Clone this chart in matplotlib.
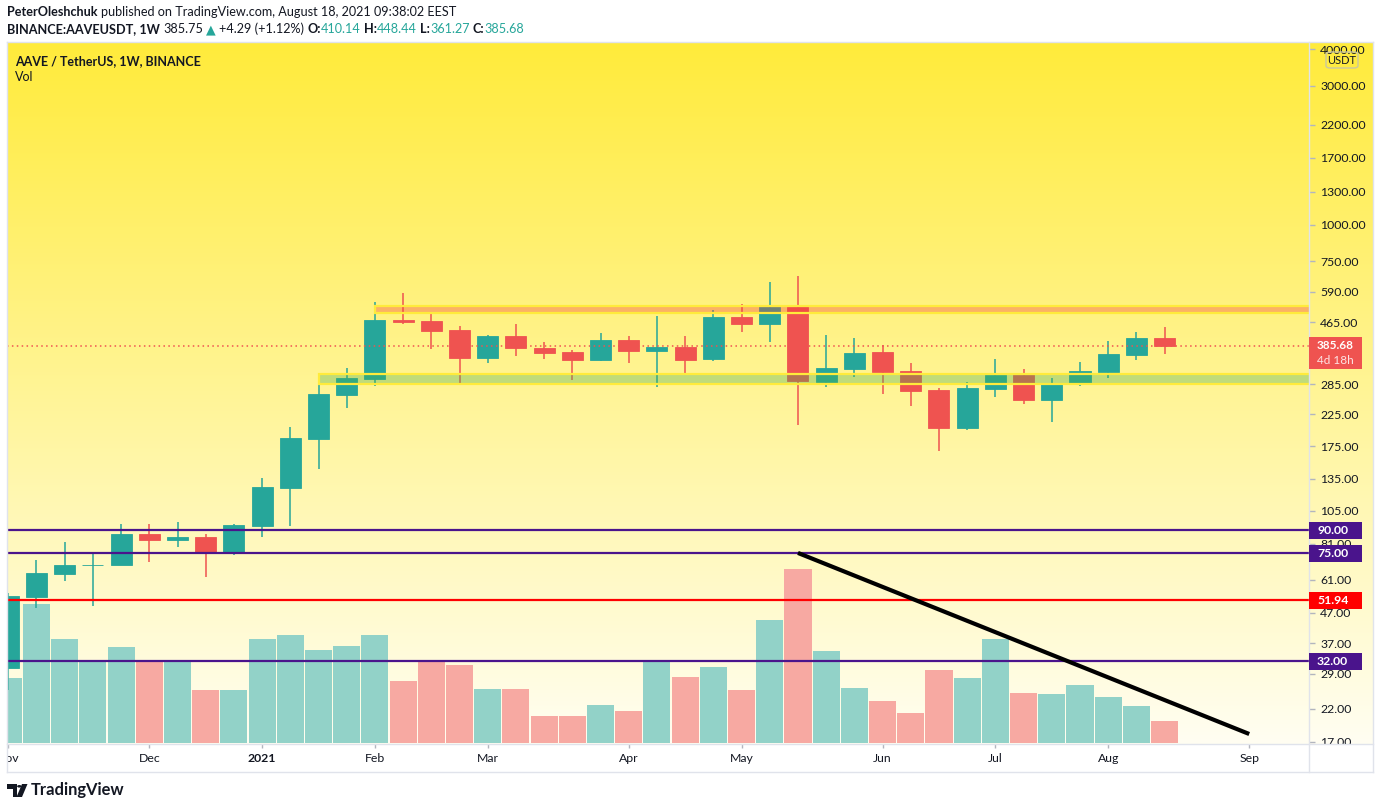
import numpy as np
import pandas as pd
import matplotlib
matplotlib.use("Agg")
import matplotlib.pyplot as plt
from matplotlib.patches import Rectangle, FancyBboxPatch, Polygon, Circle
from matplotlib.lines import Line2D
from matplotlib.ticker import FixedLocator, NullLocator, FuncFormatter

plt.rcParams['font.family'] = ['Lato', 'DejaVu Sans']

# ---------------- data ----------------
first_week = "2020-11-02"
opens = [30.4, 53.2, 63.8, 68.5, 68.5, 87.5, 83.4, 85.4, 75.9, 93.1,
         126, 185, 262, 297, 473, 469, 437, 350, 417, 379,
         367, 345, 404, 370, 382, 348, 484, 458, 524, 290,
         321, 367, 316, 272, 202, 274, 306, 252, 285, 314,
         359, 410.14]
highs = [54.9, 71.2, 82.1, 75.3, 94.6, 94.6, 96.1, 87.5, 94.6, 136,
         203, 283, 324, 545, 585, 496, 451, 420, 458, 397,
         373, 427, 417, 488, 417, 512, 536, 638, 669, 420,
         410, 388, 337, 277, 290, 348, 321, 299, 340, 401,
         430, 448.44]
lows = [25.6, 48.8, 60.4, 49.6, 68.4, 70.1, 78.9, 62.3, 74.1, 85.4,
        93.1, 146, 236, 281, 458, 376, 285, 337, 356, 348,
        294, 342, 337, 279, 309, 342, 430, 397, 207, 279,
        302, 264, 240, 168, 199, 258, 244, 211, 281, 299,
        345, 361.27]
closes = [53.6, 64.3, 68.5, 68.6, 87.5, 83.4, 85.4, 75.9, 93.9, 127,
          186, 264, 299, 473, 465, 433, 350, 417, 379, 364,
          345, 404, 370, 382, 345, 484, 458, 524, 292, 324,
          364, 314, 270, 202, 277, 306, 252, 288, 316, 362,
          410, 385.68]
volume = [650, 1390, 1040, 820, 960, 810, 830, 530, 530, 1040,
          1080, 930, 970, 1080, 620, 810, 780, 540, 540, 270,
          270, 380, 320, 830, 660, 760, 530, 1230, 1740, 920,
          550, 420, 300, 730, 650, 1040, 500, 490, 580, 460,
          370, 220]

level_values = [90.0, 75.0, 51.94, 32.0]
level_labels = ["90.00", "75.00", "51.94", "32.00"]
level_colors = ["#4A148C", "#4A148C", "#FF0000", "#4A148C"]

green_zone = (285, 309)      # price range
green_zone_start = 11        # week index
orange_zone = (498, 528)
orange_zone_start = 13

trend_weeks = [28, 44]
trend_prices = [75.3, 18.06]

ytick_values = [4000, 3000, 2200, 1700, 1300, 1000, 750, 590, 465, 285,
                225, 175, 135, 105, 81, 61, 47, 37, 29, 22, 17]

last_price_label = "385.68"
countdown_label = "4d 18h"

# ---------------- colors / geometry ----------------
UP, DOWN = "#26A69A", "#EF5350"
VUP, VDOWN = "#92D2C8", "#F7A9A2"
TXT = "#131722"
BORDER = "#E0E3EB"
W, H = 1380, 809
L, R, T, B = 7, 1309, 42, 744
AX_R, BOT = 1373, 772


def fx(px):
    return px / W


def fy(py):
    return 1 - py / H


fig = plt.figure(figsize=(W / 100, H / 100), dpi=100)
fig.patch.set_facecolor("white")

# background gradient (pane + price scale)
bg = fig.add_axes([fx(L), fy(B), fx(AX_R - L), (B - T) / H], zorder=0)
top_c = np.array([255, 235, 59]) / 255
bot_c = np.array([255, 254, 242]) / 255
tt = np.linspace(0, 1, 400)[:, None]
grad = top_c * (1 - tt) + bot_c * tt
bg.imshow(grad[:, None, :], aspect="auto", extent=[0, 1, 0, 1])
bg.axis("off")

n = len(opens)
x = np.arange(n)
o, h, lo, c = map(np.array, (opens, highs, lows, closes))
up = c >= o

xlim = (-0.046, 46.12)

# volume pane
axv = fig.add_axes([fx(L), fy(B), fx(R - L), (B - T) / H], zorder=1)
axv.patch.set_alpha(0)
axv.bar(x, volume, width=0.96, color=[VUP if u else VDOWN for u in up], lw=0)
vmax = max(volume)
axv.set_ylim(-vmax * 0.0057, vmax / 0.248)
axv.set_xlim(*xlim)
axv.axis("off")

# price pane
ax = fig.add_axes([fx(L), fy(B), fx(R - L), (B - T) / H], zorder=2)
ax.patch.set_alpha(0)
ax.set_yscale("log")
ax.set_xlim(*xlim)
ax.set_ylim(16.69, 4233)
for s in ax.spines.values():
    s.set_visible(False)

cols = [UP if u else DOWN for u in up]
ax.vlines(x, lo, h, colors=cols, lw=1.1, zorder=3)
ax.bar(x, np.abs(c - o), bottom=np.minimum(o, c), width=0.745, color=cols,
       edgecolor=cols, lw=0.6, zorder=4)

# zones
for (z0, z1), start, col, a in [(green_zone, green_zone_start, "#4CAF50", 0.35),
                                (orange_zone, orange_zone_start, "#F44336", 0.36)]:
    ax.add_patch(Rectangle((start, z0), xlim[1] + 2 - start, z1 - z0,
                           facecolor=matplotlib.colors.to_rgba(col, a),
                           edgecolor="#FFEB3B", lw=1.6, zorder=5))

# last price dotted line
ax.axhline(closes[-1], color=DOWN, lw=1.1, ls=(0, (1, 2.2)), zorder=5)

# horizontal levels
for v, col in zip(level_values, level_colors):
    ax.axhline(v, color=col, lw=1.6, zorder=6)

# trend line
ax.plot(trend_weeks, trend_prices, color="black", lw=3.0, solid_capstyle="butt", zorder=7)

# price scale
ax.yaxis.tick_right()
ax.yaxis.set_major_locator(FixedLocator(ytick_values))
ax.yaxis.set_minor_locator(NullLocator())
ax.yaxis.set_major_formatter(FuncFormatter(lambda v, p: f"{v:.2f}"))
ax.tick_params(axis="y", which="major", length=4, width=1, color="#B2B5BE",
               pad=4, labelsize=8.8, labelcolor=TXT)
ax.tick_params(axis="x", bottom=False, labelbottom=False)
for tk in ax.yaxis.get_major_ticks():
    tk.label2.set_clip_box(bg.bbox)
    tk.label2.set_clip_on(True)

# time scale
axx = fig.add_axes([fx(L), fy(BOT), fx(R - L), (BOT - B) / H], zorder=2)
axx.set_xlim(*xlim)
axx.set_ylim(0, 1)
axx.axis("off")
dates = pd.date_range(first_week, periods=n + 6, freq="7D")
for i, d in enumerate(dates):
    if i == 0 or d.month != dates[i - 1].month:
        lab = str(d.year) if d.month == 1 else d.strftime("%b")
        axx.text(i, 0.50, lab, ha="center", va="center", fontsize=8.8, color=TXT,
                 fontweight="bold" if d.month == 1 else "normal", clip_on=True)
        axx.vlines(i, 0.86, 1.0, color="#B2B5BE", lw=1)

# borders
for (x0, y0, x1, y1) in [(L, T, AX_R, T), (L, B, AX_R, B), (L, BOT, AX_R, BOT),
                         (L - 0.5, T, L - 0.5, BOT), (R, T, R, BOT), (AX_R, T, AX_R, BOT)]:
    fig.add_artist(Line2D([fx(x0), fx(x1)], [fy(y0), fy(y1)], color=BORDER, lw=1.0,
                          transform=fig.transFigure, zorder=30))

# price label boxes
def ydisp(v):
    return ax.transData.transform((0, v))[1]


for v, lab, col in zip(level_values, level_labels, level_colors):
    yd = ydisp(v)
    fig.add_artist(Rectangle((fx(R), (yd - 8.5) / H), fx(53), 17 / H,
                             transform=fig.transFigure, fc=col, ec="none", zorder=31))
    fig.text(fx(R + 8), yd / H, lab, color="white", fontsize=8.8, fontweight="bold",
             ha="left", va="center", zorder=32)

yd = ydisp(closes[-1])
fig.add_artist(Rectangle((fx(R), (yd - 23) / H), fx(53), 31.5 / H,
                         transform=fig.transFigure, fc=DOWN, ec="none", zorder=31))
fig.text(fx(R + 8), (yd + 0.5) / H, last_price_label, color="white", fontsize=8.5,
         fontweight="bold", ha="left", va="center", zorder=32)
fig.text(fx(R + 8), (yd - 14.5) / H, countdown_label, color="#FDE3E3", fontsize=8.5,
         ha="left", va="center", zorder=32)

# USDT badge
fig.add_artist(FancyBboxPatch((fx(1326), fy(68)), fx(32), 16 / H,
                              boxstyle="round,pad=0,rounding_size=0.003",
                              transform=fig.transFigure, fc="none", ec="#C9C6A0",
                              lw=1, zorder=31))
fig.text(fx(1342), fy(60), "USDT", color=TXT, fontsize=8.0, ha="center",
         va="center", zorder=32)

# header texts
renderer = fig.canvas.get_renderer()


def runs(x_px, y_px, parts, size):
    xc = x_px
    sp = fig.text(0, 0, "a a", fontsize=size)
    sp2 = fig.text(0, 0, "aa", fontsize=size)
    space = sp.get_window_extent(renderer).width - sp2.get_window_extent(renderer).width
    sp.remove()
    sp2.remove()
    for s, weight, color, gap in parts:
        t = fig.text(fx(xc), fy(y_px), s, fontsize=size, fontweight=weight, color=color,
                     ha="left", va="center", zorder=40)
        xc += t.get_window_extent(renderer).width + (space if gap else 0)


runs(7, 12, [("PeterOleshchuk", "bold", TXT, True),
             ("published on TradingView.com, August 18, 2021 09:38:02 EEST", "normal", TXT, False)], 9.1)
runs(7, 29, [("BINANCE:AAVEUSDT, 1W", "bold", TXT, True),
             ("385.75", "normal", TXT, True),
             ("▲", "normal", UP, True),
             ("+4.29 (+1.12%)", "normal", TXT, True),
             ("O:", "bold", TXT, False), ("410.14", "normal", UP, True),
             ("H:", "bold", TXT, False), ("448.44", "normal", UP, True),
             ("L:", "bold", TXT, False), ("361.27", "normal", UP, True),
             ("C:", "bold", TXT, False), ("385.68", "normal", UP, False)], 9.1)

fig.text(fx(15), fy(61), "AAVE / TetherUS, 1W, BINANCE", fontsize=9.0, fontweight="bold",
         color=TXT, ha="left", va="center", zorder=40)
fig.text(fx(15), fy(77), "Vol", fontsize=9.0, color=TXT, ha="left", va="center", zorder=40)

# TradingView logo
logo = [Polygon([(fx(7), fy(784)), (fx(17), fy(784)), (fx(17), fy(797)), (fx(12.5), fy(797)),
                 (fx(12.5), fy(788.5)), (fx(7), fy(788.5))], closed=True),
        Polygon([(fx(22), fy(784)), (fx(27.5), fy(784)), (fx(22), fy(797)), (fx(16.5), fy(797))],
                closed=True)]
for p in logo:
    p.set_transform(fig.transFigure)
    p.set_facecolor(TXT)
    p.set_edgecolor("none")
    fig.add_artist(p)
fig.add_artist(Circle((fx(19.3), fy(786.3)), 2.2 / W, transform=fig.transFigure, fc=TXT, ec="none"))
fig.text(fx(31), fy(790.5), "TradingView", fontsize=11.9, fontweight="bold", color=TXT,
         ha="left", va="center")

fig.savefig("out.png", dpi=100)
